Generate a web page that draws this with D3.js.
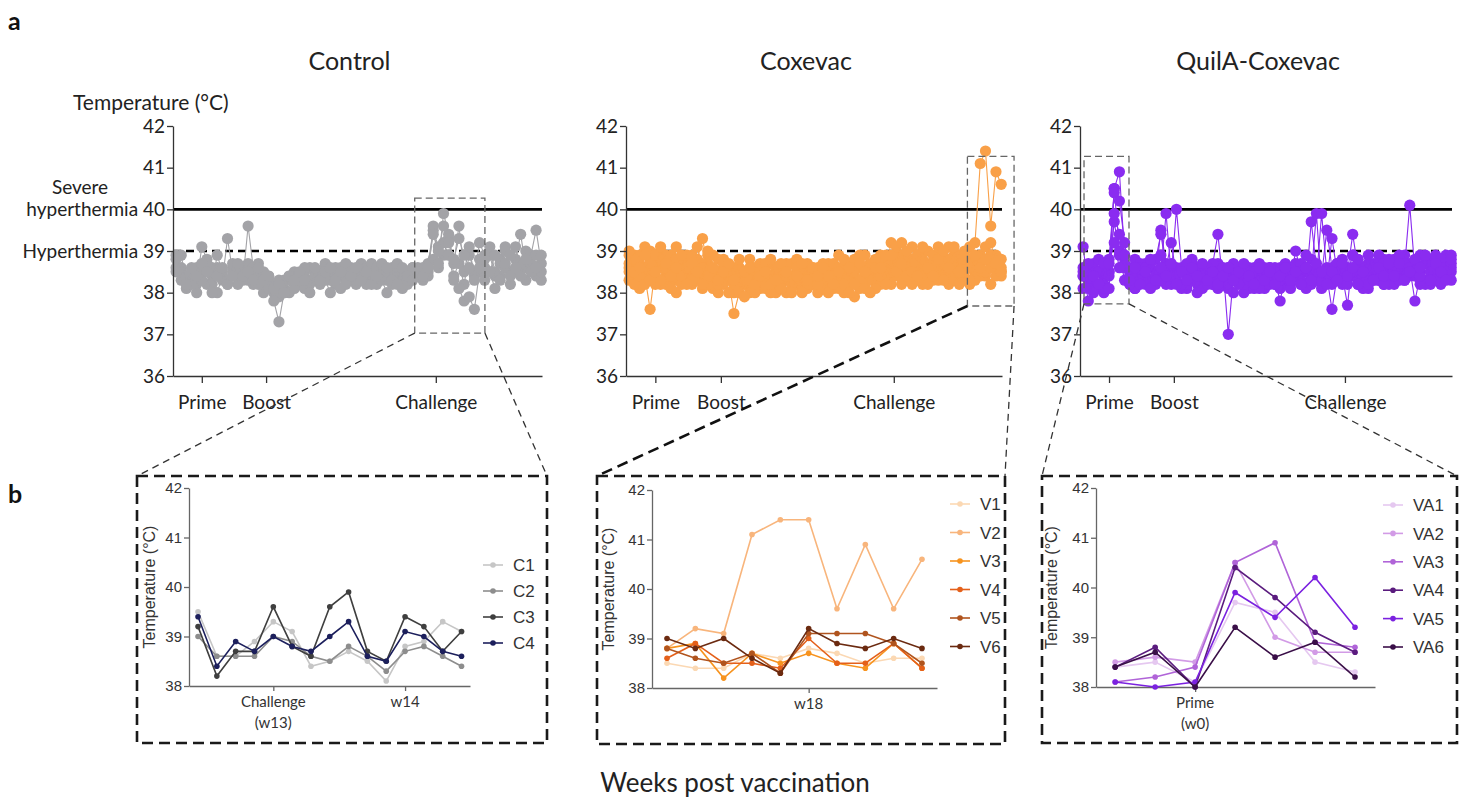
<!DOCTYPE html>
<html>
<head>
<meta charset="utf-8">
<script src="https://cdn.jsdelivr.net/npm/d3@7"></script>
<style>
  body { margin: 0; background: #fff; }
  svg { display: block; }
</style>
</head>
<body>
<svg id="fig" width="1467" height="800"></svg>
<script>
// ---- top panels: temperature every 2 days, one array per animal ----
const sampleDays = [-10,-8,-6,-4,-2,0,2,4,6,8,10,12,14,16,18,20,22,24,26,28,30,32,34,36,
  38,40,42,44,46,48,50,52,54,56,58,60,62,64,66,68,70,72,74,76,78,80,82,84,
  86,88,90,92,94,96,98,100,102,104,106,108,110,112,114,116,118,120,122,124,126,128,130,132];

const ctrlC1 = [38.9,38.6,38.3,38.5,38.2,39.1,38.8,38.4,38.6,38.3,39.3,38.5,
  38.4,38.6,38.3,38.5,38.7,38.2,38.4,38.0,38.3,38.1,38.4,38.5,
  38.2,38.5,38.6,38.3,38.4,38.7,38.5,38.2,38.6,38.4,38.3,38.5,
  38.7,38.6,38.4,38.2,38.5,38.3,38.6,38.4,38.1,38.5,38.6,38.4,
  38.5,38.7,39.5,39.1,38.9,39.3,38.4,38.7,38.2,38.9,38.5,38.8,
  38.6,38.9,38.4,38.7,39.1,38.5,38.8,39.4,38.6,38.9,39.5,38.7];
const ctrlC2 = [38.6,38.3,38.1,38.4,38.0,38.5,38.2,38.6,38.0,38.4,38.2,38.6,
  38.2,38.5,38.7,38.2,38.4,38.0,38.3,38.2,37.9,38.3,38.0,38.2,
  38.4,38.1,38.3,38.5,38.2,38.6,38.3,38.5,38.1,38.3,38.6,38.2,
  38.4,38.3,38.6,38.5,38.3,38.0,38.4,38.5,38.3,38.2,38.4,38.6,
  38.3,38.5,38.8,38.6,39.2,38.9,38.3,38.1,37.8,37.9,37.6,38.5,
  38.3,38.5,38.1,38.4,38.6,38.2,38.5,38.7,38.3,38.6,38.4,38.3];
const ctrlC3 = [38.8,38.5,38.4,38.2,38.6,38.3,38.7,38.2,38.9,38.5,38.3,38.7,
  38.6,38.3,39.6,38.6,38.2,38.5,38.1,37.8,37.3,38.0,38.3,38.1,
  38.3,38.6,38.2,38.4,38.5,38.3,38.0,38.6,38.4,38.7,38.5,38.3,
  38.5,38.2,38.7,38.6,38.4,38.5,38.2,38.7,38.5,38.3,38.6,38.4,
  38.6,38.4,39.6,38.7,39.9,39.4,38.7,39.6,38.5,39.1,38.4,39.2,
  38.9,39.1,38.5,38.8,39.0,38.4,39.1,38.6,39.0,38.7,38.9,38.5];
const ctrlC4 = [38.5,38.9,38.2,38.6,38.4,38.7,38.5,38.0,38.4,38.6,38.2,38.4,
  38.7,38.4,38.5,38.3,38.6,38.3,38.4,38.1,38.2,38.0,38.4,38.3,
  38.5,38.3,38.0,38.6,38.3,38.5,38.6,38.3,38.5,38.2,38.4,38.6,
  38.3,38.5,38.2,38.4,38.7,38.6,38.3,38.2,38.6,38.4,38.3,38.5,
  38.4,38.6,39.4,39.0,39.6,39.2,38.8,39.3,38.9,38.6,38.3,38.6,
  38.8,38.5,38.9,38.3,38.7,38.9,38.6,38.4,38.8,38.5,38.6,38.9];

const coxV1 = [38.6,38.9,38.3,38.5,38.8,38.2,38.6,38.4,38.9,38.3,38.6,38.5,
  38.2,38.7,38.4,38.9,38.1,38.5,38.3,38.6,38.0,38.4,38.2,38.5,
  38.3,38.1,38.6,38.4,38.0,38.5,38.3,38.7,38.2,38.4,38.1,38.6,
  38.3,38.5,38.2,38.6,38.4,38.0,38.5,38.8,38.3,38.6,38.4,38.7,
  38.5,38.8,38.4,38.9,38.6,38.3,38.8,38.5,39.0,38.4,38.7,38.5,
  38.8,38.4,38.9,38.6,38.3,38.7,38.5,38.6,38.4,38.7,38.6,38.6];
const coxV2 = [38.9,38.4,38.7,39.1,38.5,38.8,39.0,38.6,38.3,39.1,38.5,38.7,
  38.4,38.8,39.3,38.6,38.2,38.5,38.8,38.4,38.6,38.2,38.5,38.8,
  38.4,38.6,38.3,38.7,38.5,38.2,38.6,38.4,38.8,38.3,38.5,38.2,
  38.6,38.4,38.7,38.3,38.9,38.5,38.2,38.6,38.9,38.4,38.7,38.5,
  38.9,38.6,39.2,38.7,38.9,38.5,39.1,38.8,38.6,39.0,38.7,38.9,
  38.6,39.1,38.8,38.7,39.0,38.8,39.2,41.1,41.4,39.6,40.9,40.6];
const coxV3 = [38.3,38.7,38.1,38.4,37.6,38.6,38.2,38.9,38.5,38.0,38.7,38.3,
  38.9,38.3,38.1,38.7,38.4,38.0,38.6,38.3,37.5,38.0,38.4,38.1,
  38.6,38.3,38.1,38.4,38.2,38.6,38.0,38.3,38.5,38.1,38.4,38.2,
  38.0,38.3,38.5,38.1,38.2,38.6,38.4,37.9,38.6,38.2,38.5,38.3,
  38.2,38.5,38.7,38.4,38.2,38.8,38.3,38.6,38.2,38.5,38.3,38.7,
  38.4,38.2,38.6,38.3,38.5,38.2,38.7,38.4,38.5,38.2,38.9,38.4];
const coxV4 = [38.7,38.2,38.9,38.6,39.0,38.4,38.8,38.2,38.7,38.5,38.2,38.9,
  38.6,38.4,38.7,38.2,38.5,38.8,38.2,38.5,38.1,38.6,38.3,38.0,
  38.4,38.7,38.2,38.0,38.5,38.3,38.7,38.1,38.3,38.6,38.2,38.4,
  38.5,38.1,38.3,38.7,38.1,38.3,38.7,38.4,38.1,38.9,38.3,38.1,
  38.7,38.3,38.5,39.1,38.4,38.6,38.2,38.9,38.4,38.7,38.9,38.3,
  38.7,38.5,38.3,38.9,38.6,39.1,38.4,38.9,38.5,38.9,38.4,38.5];
const coxV5 = [38.5,38.8,38.4,38.2,38.7,38.9,38.3,38.6,38.1,38.8,38.4,38.6,
  38.3,39.1,38.6,38.4,38.9,38.2,38.7,38.0,38.4,38.6,37.9,38.3,
  38.0,38.5,38.7,38.2,38.6,38.1,38.4,38.2,38.6,38.0,38.7,38.5,
  38.2,38.7,38.0,38.4,38.6,38.2,38.0,38.5,38.3,38.1,38.6,38.8,
  38.4,38.9,38.2,38.6,39.2,38.4,38.7,38.3,38.8,38.2,38.6,39.1,
  38.3,38.8,38.5,38.2,38.8,38.6,38.3,38.7,39.1,38.6,38.8,38.5];
const coxV6 = [39.0,38.5,38.6,38.9,38.3,38.5,39.1,38.7,38.4,38.6,38.9,38.2,
  38.7,38.5,38.2,39.0,38.6,38.3,38.5,38.7,38.3,38.8,38.5,38.6,
  38.2,38.4,38.5,38.8,38.3,38.7,38.5,38.0,38.4,38.7,38.3,38.6,
  38.4,38.6,38.4,38.2,38.5,38.8,38.6,38.2,38.7,38.5,38.0,38.6,
  38.6,38.2,38.9,38.5,38.7,39.0,38.5,38.4,39.1,38.6,38.4,38.8,
  39.0,38.6,39.1,38.5,38.9,38.3,38.9,38.6,38.8,39.2,38.7,38.8];

const quilVA1 = [38.4,38.6,38.2,38.5,38.4,38.5,39.7,38.9,38.3,38.6,38.1,38.4,
  38.7,38.3,38.5,38.9,38.2,38.6,38.3,38.5,38.1,38.4,38.6,38.3,
  38.5,38.2,38.7,38.4,38.1,38.6,38.3,38.5,38.2,38.6,38.4,38.1,
  38.5,38.3,38.6,38.2,38.4,38.7,38.3,38.5,38.8,38.4,38.2,38.6,
  38.4,38.7,38.3,38.5,38.9,38.2,38.6,38.4,38.7,38.3,38.8,38.5,
  38.3,38.6,38.9,38.4,38.7,38.5,38.2,38.8,38.4,38.6,38.9,38.5];
const quilVA2 = [38.5,38.3,38.7,38.2,38.6,38.5,40.5,39.0,38.6,38.2,38.8,38.4,
  38.2,38.6,38.4,39.5,38.7,38.3,38.6,38.2,38.5,38.8,38.3,38.6,
  38.3,38.7,39.4,38.2,38.5,38.3,38.6,38.4,38.1,38.5,38.7,38.3,
  38.6,38.2,38.4,38.7,38.3,39.0,38.5,38.2,39.7,38.6,38.4,39.5,
  38.6,38.3,38.8,38.5,39.4,38.6,38.3,38.7,38.4,38.9,38.2,38.6,
  38.8,38.4,38.6,40.1,38.5,38.9,38.3,38.7,38.5,38.2,38.8,38.6];
const quilVA3 = [38.1,38.4,38.6,38.1,38.2,38.4,40.5,40.9,38.9,38.5,38.3,38.7,
  38.4,38.2,38.8,39.4,38.6,38.2,38.5,38.1,38.4,38.7,38.2,38.5,
  38.6,38.3,38.1,38.5,38.2,38.7,38.4,38.0,38.6,38.3,38.5,38.2,
  38.4,38.6,38.1,38.3,38.6,38.4,38.2,38.9,38.4,39.9,38.1,38.3,
  39.3,38.5,38.2,38.6,38.4,38.8,38.1,38.5,38.3,38.7,38.5,38.2,
  38.5,38.9,38.3,38.6,38.4,38.2,38.7,38.5,38.9,38.4,38.6,38.9];
const quilVA4 = [38.4,38.7,38.3,38.8,38.0,38.8,40.4,40.2,39.2,38.4,38.1,38.6,
  38.3,38.7,38.2,38.5,39.9,38.4,40.0,38.6,38.2,38.5,38.3,38.1,
  38.4,38.2,38.5,38.3,38.6,38.0,38.4,38.2,38.5,38.1,38.3,38.6,
  38.2,38.5,38.3,38.6,38.2,38.4,38.7,38.1,38.5,38.3,39.9,38.5,
  38.2,38.7,38.4,37.7,38.9,38.3,38.6,38.1,38.5,38.3,38.7,38.4,
  38.2,38.6,38.4,38.7,38.5,38.3,38.7,38.2,38.6,38.8,38.4,38.7];
const quilVA5 = [39.1,38.1,38.0,38.5,38.1,38.1,39.9,39.4,38.7,38.2,38.5,38.3,
  38.6,38.1,38.4,38.3,38.6,39.2,38.4,38.2,38.7,38.5,38.0,38.4,
  38.2,38.5,38.3,38.6,37.0,38.4,38.2,38.6,38.3,38.5,38.1,38.4,
  38.6,38.3,37.8,38.4,38.1,38.5,38.3,38.6,38.2,38.5,38.3,38.4,
  37.6,38.4,38.6,38.2,38.5,38.8,38.4,38.2,38.6,38.4,38.2,38.8,
  38.5,38.3,38.7,38.6,37.8,38.4,38.7,38.5,38.3,38.6,38.5,38.3];
const quilVA6 = [38.6,37.8,38.4,38.2,38.7,38.7,39.2,38.6,38.9,38.3,38.6,38.2,
  38.5,38.8,38.3,38.6,38.4,38.7,38.2,38.5,38.3,38.6,38.4,38.7,
  38.3,38.5,38.2,38.4,38.6,38.3,38.5,38.7,38.4,38.2,38.6,38.3,
  38.5,38.2,38.4,38.6,38.3,38.5,38.2,38.6,38.3,38.7,38.5,38.2,
  38.5,38.3,38.7,38.4,38.6,38.2,38.5,38.9,38.3,38.6,38.4,38.7,
  38.4,38.7,38.3,38.5,38.8,38.6,38.9,38.3,38.7,38.5,38.3,38.8];

// ---- bottom panels: daily values in the zoomed windows ----
const ctrlZoomDays = [87,88,89,90,91,92,93,94,95,96,97,98,99,100,101];
const zC1 = [39.5,38.6,38.6,38.9,39.3,39.1,38.4,38.5,38.7,38.5,38.1,38.8,38.9,39.3,39.1];
const zC2 = [39.0,38.6,38.6,38.6,39.0,38.9,38.6,38.5,38.8,38.6,38.3,38.7,38.8,38.6,38.4];
const zC3 = [39.2,38.2,38.7,38.7,39.6,38.8,38.6,39.6,39.9,38.7,38.5,39.4,39.2,38.7,39.1];
const zC4 = [39.4,38.4,38.9,38.7,39.0,38.8,38.7,39.0,39.3,38.6,38.5,39.1,39.0,38.7,38.6];

const coxZoomDays = [121,122,123,124,125,126,127,128,129,130];
const zV1 = [38.5,38.4,38.4,38.7,38.6,38.8,38.7,38.5,38.6,38.6];
const zV2 = [38.8,39.2,39.1,41.1,41.4,41.4,39.6,40.9,39.6,40.6];
const zV3 = [38.8,38.9,38.2,38.7,38.5,38.7,38.5,38.4,38.9,38.4];
const zV4 = [38.6,38.9,38.5,38.5,38.4,39.0,38.5,38.5,38.9,38.4];
const zV5 = [38.8,38.6,38.5,38.7,38.3,39.1,39.1,39.1,38.9,38.5];
const zV6 = [39.0,38.8,39.0,38.6,38.3,39.2,38.9,38.8,39.0,38.8];

const quilZoomDays = [-2,-1,0,1,2,3,4];
const zVA1 = [38.4,38.5,38.1,39.7,39.5,38.5,38.3];
const zVA2 = [38.5,38.6,38.5,40.5,39.0,38.7,38.7];
const zVA3 = [38.1,38.2,38.4,40.5,40.9,38.9,38.8];
const zVA4 = [38.4,38.8,38.0,40.4,39.8,39.1,38.7];
const zVA5 = [38.1,38.0,38.1,39.9,39.4,40.2,39.2];
const zVA6 = [38.4,38.7,38.0,39.2,38.6,38.9,38.2];

const eventDays = [0, 25, 91];
const eventNames = ["Prime", "Boost", "Challenge"];
const tempTicks = [36, 37, 38, 39, 40, 41, 42];
const zoomTicks = [38, 39, 40, 41, 42];

// ---- drawing ----
const svg = d3.select("#fig");
const sans = "Lato, 'Open Sans', sans-serif";
const arial = "'Liberation Sans', Arial, sans-serif";
const dayDomain = [-11.2, 132.3];

svg.append("text").attr("x", 8).attr("y", 30).attr("font-family", sans)
  .attr("font-weight", 700).attr("font-size", 25).attr("fill", "#111").text("a");
svg.append("text").attr("x", 8).attr("y", 503).attr("font-family", sans)
  .attr("font-weight", 700).attr("font-size", 25).attr("fill", "#111").text("b");
svg.append("text").attr("x", 735).attr("y", 792).attr("text-anchor", "middle")
  .attr("font-family", sans).attr("font-size", 26).attr("fill", "#222")
  .text("Weeks post vaccination");

function topPanel(o) {
  const x = d3.scaleLinear().domain(dayDomain).range([o.left, o.right]);
  const y = d3.scaleLinear().domain([36, 42]).range([376, 126]);
  const g = svg.append("g");

  g.append("text").attr("x", (o.left + o.right) / 2 - 8).attr("y", 70)
    .attr("text-anchor", "middle").attr("font-family", sans)
    .attr("font-size", 25).attr("fill", "#222").text(o.title);

  // reference lines below the dots
  g.append("line").attr("x1", x(dayDomain[0])).attr("x2", x(dayDomain[1]))
    .attr("y1", y(40)).attr("y2", y(40)).attr("stroke", "#000").attr("stroke-width", 2.6);
  g.append("line").attr("x1", x(dayDomain[0])).attr("x2", x(dayDomain[1]) - 6)
    .attr("y1", y(39)).attr("y2", y(39)).attr("stroke", "#000").attr("stroke-width", 2.6)
    .attr("stroke-dasharray", "8,5");

  const line = d3.line().x((d, i) => x(sampleDays[i])).y(d => y(d));
  o.series.forEach(s => {
    g.append("path").datum(s).attr("d", line).attr("fill", "none")
      .attr("stroke", o.color).attr("stroke-width", 1.1);
    g.append("g").selectAll("circle").data(s).join("circle")
      .attr("cx", (d, i) => x(sampleDays[i])).attr("cy", d => y(d))
      .attr("r", 5.6).attr("fill", o.color);
  });

  const yAxis = d3.axisLeft(y).tickValues(tempTicks).tickSize(6).tickSizeOuter(0)
    .tickFormat(o.yFormat || (d => d));
  g.append("g").attr("transform", `translate(${o.left},0)`).call(yAxis)
    .call(a => a.select(".domain").attr("stroke", "#333").attr("stroke-width", 1.3))
    .call(a => a.selectAll(".tick line").attr("stroke", "#333").attr("stroke-width", 1.3))
    .call(a => a.selectAll("text").attr("font-family", sans).attr("font-size", 19)
      .attr("fill", "#222").attr("x", -8));

  const xAxis = d3.axisBottom(x).tickValues(eventDays).tickSize(7).tickSizeOuter(0)
    .tickFormat((d, i) => eventNames[i]);
  g.append("g").attr("transform", "translate(0,376)").call(xAxis)
    .call(a => a.select(".domain").attr("stroke", "#333").attr("stroke-width", 1.3))
    .call(a => a.selectAll(".tick line").attr("stroke", "#333").attr("stroke-width", 1.3))
    .call(a => a.selectAll("text").attr("font-family", sans).attr("font-size", 19)
      .attr("fill", "#222").attr("y", 20));

  // zoom window
  const b = { x0: x(o.win[0]), x1: x(o.win[1]), y0: y(o.win[2]), y1: y(o.win[3]) };
  g.append("rect").attr("x", b.x0).attr("y", b.y0)
    .attr("width", b.x1 - b.x0).attr("height", b.y1 - b.y0)
    .attr("fill", "none").attr("stroke", "#666").attr("stroke-width", 1.3)
    .attr("stroke-dasharray", "7,4");
  return b;
}

const ctrlBox = topPanel({
  title: "Control", left: 173, right: 542, color: "#a3a3a7",
  series: [ctrlC1, ctrlC2, ctrlC3, ctrlC4], win: [82.8, 110.1, 40.27, 37.03],
  yFormat: d => d === 40 ? "hyperthermia 40" : d === 39 ? "Hyperthermia 39" : d
});
const coxBox = topPanel({
  title: "Coxevac", left: 626, right: 1002, color: "#f9a048",
  series: [coxV1, coxV2, coxV3, coxV4, coxV5, coxV6], win: [119.1, 136.9, 41.27, 37.68]
});
const quilBox = topPanel({
  title: "QuilA-Coxevac", left: 1080, right: 1452, color: "#8a2cf0",
  series: [quilVA1, quilVA2, quilVA3, quilVA4, quilVA5, quilVA6], win: [-9.65, 7.7, 41.27, 37.73]
});

svg.append("text").attr("x", 73).attr("y", 110).attr("font-family", sans)
  .attr("font-size", 21).attr("fill", "#222").text("Temperature (°C)");
svg.append("text").attr("x", 80).attr("y", 194).attr("text-anchor", "middle")
  .attr("font-family", sans).attr("font-size", 19).attr("fill", "#222").text("Severe");

function zoomPanel(o) {
  const g = svg.append("g");
  g.append("rect").attr("x", o.box[0]).attr("y", o.box[1])
    .attr("width", o.box[2] - o.box[0]).attr("height", o.box[3] - o.box[1])
    .attr("fill", "none").attr("stroke", "#1a1a1a").attr("stroke-width", 2.6)
    .attr("stroke-dasharray", "11,6");

  const x = d3.scaleLinear().domain(o.domain).range([o.left, o.right]);
  const y = d3.scaleLinear().domain([38, 42]).range([o.yBottom, o.yTop]);

  const yAxis = d3.axisLeft(y).tickValues(zoomTicks).tickSize(5).tickSizeOuter(0)
    .tickFormat(d => d);
  g.append("g").attr("transform", `translate(${o.left},0)`).call(yAxis)
    .call(a => a.select(".domain").attr("stroke", "#666").attr("stroke-width", 1.3))
    .call(a => a.selectAll(".tick line").attr("stroke", "#666").attr("stroke-width", 1.3))
    .call(a => a.selectAll("text").attr("font-family", arial).attr("font-size", 15)
      .attr("fill", "#333").attr("x", -7));

  const xAxis = d3.axisBottom(x).tickValues(o.ticks).tickSize(5).tickSizeOuter(0).tickFormat("");
  g.append("g").attr("transform", `translate(0,${o.yBottom})`).call(xAxis)
    .call(a => a.select(".domain").attr("stroke", "#666").attr("stroke-width", 1.3))
    .call(a => a.selectAll(".tick line").attr("stroke", "#666").attr("stroke-width", 1.3));
  o.ticks.forEach((t, i) => {
    const tx = g.append("text").attr("x", x(t)).attr("y", o.yBottom + 21)
      .attr("text-anchor", "middle").attr("font-family", sans)
      .attr("font-size", 15).attr("fill", "#333");
    o.tickLabels[i].forEach((s, k) => tx.append("tspan").attr("x", x(t))
      .attr("dy", k === 0 ? 0 : 21).text(s));
  });

  g.append("text").attr("transform", `translate(${o.labelX},${(o.yTop + o.yBottom) / 2}) rotate(-90)`)
    .attr("text-anchor", "middle").attr("font-family", arial).attr("font-size", 16)
    .attr("fill", "#333").text("Temperature (°C)");

  const line = d3.line().x((d, i) => x(o.days[i])).y(d => y(d));
  o.series.forEach((s, j) => {
    g.append("path").datum(s).attr("d", line).attr("fill", "none")
      .attr("stroke", o.colors[j]).attr("stroke-width", 1.6);
    g.append("g").selectAll("circle").data(s).join("circle")
      .attr("cx", (d, i) => x(o.days[i])).attr("cy", d => y(d))
      .attr("r", 2.8).attr("fill", o.colors[j]);
  });

  o.names.forEach((n, j) => {
    const ly = o.legendY + j * o.legendStep;
    g.append("line").attr("x1", o.legendX).attr("x2", o.legendX + 20)
      .attr("y1", ly).attr("y2", ly).attr("stroke", o.colors[j]).attr("stroke-width", 1.6);
    g.append("circle").attr("cx", o.legendX + 10).attr("cy", ly).attr("r", 2.8)
      .attr("fill", o.colors[j]);
    g.append("text").attr("x", o.legendX + 30).attr("y", ly).attr("dy", "0.36em")
      .attr("font-family", arial).attr("font-size", 17).attr("fill", "#333").text(n);
  });
  return o.box;
}

const ctrlZ = zoomPanel({
  box: [137, 476, 547, 743], left: 189, right: 470, yTop: 488, yBottom: 686,
  domain: [86.52, 101.45], days: ctrlZoomDays, series: [zC1, zC2, zC3, zC4],
  colors: ["#c6c6c6", "#8d8d8d", "#3f3f3f", "#1c1f5c"], names: ["C1", "C2", "C3", "C4"],
  ticks: [91, 98], tickLabels: [["Challenge", "(w13)"], ["w14"]],
  labelX: 155, legendX: 483, legendY: 565, legendStep: 26
});
const coxZ = zoomPanel({
  box: [597, 476, 1005, 744], left: 652, right: 937, yTop: 490, yBottom: 688,
  domain: [120.47, 130.53], days: coxZoomDays, series: [zV1, zV2, zV3, zV4, zV5, zV6],
  colors: ["#fbd8b3", "#f8b57c", "#f7931e", "#e4601a", "#b0541e", "#6b2a10"],
  names: ["V1", "V2", "V3", "V4", "V5", "V6"],
  ticks: [126], tickLabels: [["w18"]],
  labelX: 614, legendX: 950, legendY: 504, legendStep: 28.5
});
const quilZ = zoomPanel({
  box: [1042, 476, 1457, 743], left: 1096, right: 1375, yTop: 488, yBottom: 687,
  domain: [-2.48, 4.5], days: quilZoomDays, series: [zVA1, zVA2, zVA3, zVA4, zVA5, zVA6],
  colors: ["#e5c8f0", "#d29be6", "#b064d8", "#5a1b7e", "#7b22e0", "#3a0f48"],
  names: ["VA1", "VA2", "VA3", "VA4", "VA5", "VA6"],
  ticks: [0], tickLabels: [["Prime", "(w0)"]],
  labelX: 1057, legendX: 1383, legendY: 505, legendStep: 28.4
});

// connector lines from each window to its zoomed panel
function connect(b, z, leftStyle, rightStyle) {
  [[b.x0, z[0], leftStyle], [b.x1, z[2], rightStyle]].forEach(([x1, x2, st]) => {
    svg.append("line").attr("x1", x1).attr("y1", b.y1).attr("x2", x2).attr("y2", z[1])
      .attr("stroke", st.color).attr("stroke-width", st.width).attr("stroke-dasharray", st.dash);
  });
}
const thin = { color: "#333", width: 1.3, dash: "7,5" };
const thick = { color: "#111", width: 2.6, dash: "11,6" };
connect(ctrlBox, ctrlZ, thin, thin);
connect(coxBox, coxZ, thick, thin);
connect(quilBox, quilZ, thin, thin);
</script>
</body>
</html>
